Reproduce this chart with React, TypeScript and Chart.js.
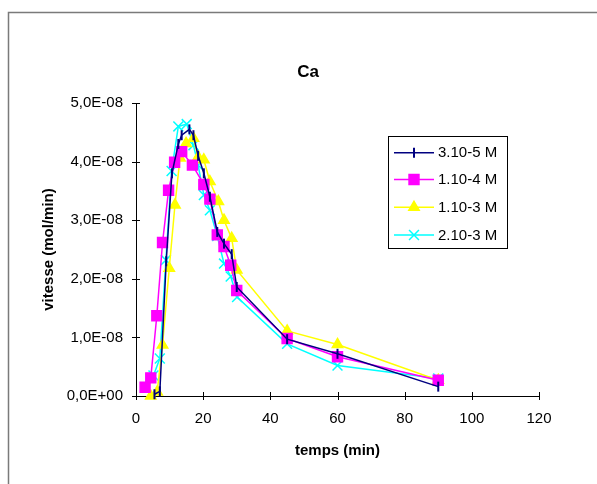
import React, { useEffect, useRef } from 'react';
import { Chart, registerables } from 'chart.js';
import { drawPoint } from 'chart.js/helpers';

Chart.register(...registerables);

const CHART_TITLE = 'Ca';
const X_TITLE = 'temps (min)';
const Y_TITLE = 'vitesse (mol/min)';
const SERIES_NAMES = ['3.10-5 M', '1.10-4 M', '1.10-3 M', '2.10-3 M'];
const UNIT = 1e-8; // values below are in 1E-08 mol/min

const t_3e5 = [5.5, 7.1, 9.0, 10.7, 12.6, 13.6, 15.9, 17.1, 18.5, 20.2, 22.0, 24.2, 26.2, 28.5, 30.0, 45, 60, 90];
const v_3e5 = [0.03, 0.08, 2.3, 3.8, 4.3, 4.45, 4.55, 4.45, 4.1, 3.8, 3.4, 2.8, 2.6, 2.42, 1.86, 0.97, 0.72, 0.16];

const t_1e4 = [2.7, 4.4, 6.2, 7.9, 9.7, 11.5, 13.6, 16.8, 20.2, 22.0, 24.2, 26.2, 28.2, 30.0, 45, 60, 90];
const v_1e4 = [0.15, 0.31, 1.37, 2.62, 3.51, 3.99, 4.17, 3.94, 3.61, 3.36, 2.75, 2.55, 2.23, 1.8, 0.98, 0.67, 0.27];

const t_1e3 = [4.4, 6.3, 7.9, 9.9, 11.6, 13.1, 14.9, 17.1, 18.5, 20.2, 22.0, 24.5, 26.2, 28.5, 30, 45, 60, 90];
const v_1e3 = [0.0, 0.07, 0.87, 2.18, 3.26, 4.06, 4.31, 4.4, 4.08, 4.03, 3.66, 3.32, 3.0, 2.69, 2.15, 1.11, 0.88, 0.27];

const t_2e3 = [5.2, 7.1, 8.9, 10.6, 12.6, 15.1, 17.1, 18.5, 20.2, 22.0, 24.2, 26.2, 28.2, 30.1, 45, 60, 90];
const v_2e3 = [0.35, 0.64, 2.32, 3.84, 4.6, 4.64, 4.28, 3.94, 3.43, 3.17, 2.73, 2.26, 2.04, 1.69, 0.89, 0.52, 0.3];

const X_MIN = 0, X_MAX = 120, X_STEP = 20;
const Y_MIN = 0, Y_MAX = 5, Y_STEP = 1;

const FONT = "'Liberation Sans', Arial, sans-serif";

const pts = (t: number[], v: number[]) => t.map((x, i) => ({ x, y: v[i] * UNIT }));

const fmtY = (val: number) => {
  const s = Number(val).toExponential(1); // e.g. 5.0e-8
  const [m, e] = s.split('e');
  const sign = e.startsWith('-') ? '-' : '+';
  const digits = e.replace(/[+-]/, '').padStart(2, '0');
  return m.replace('.', ',') + 'E' + sign + digits;
};

const decorPlugin = {
  id: 'decor',
  beforeDraw(chart: any) {
    const ctx = chart.ctx;
    ctx.save();
    ctx.fillStyle = '#fff';
    ctx.fillRect(0, 0, chart.width, chart.height);
    ctx.strokeStyle = '#7a7a7a';
    ctx.lineWidth = 1.5;
    ctx.strokeRect(8.5, 12.5, 800, 800);
    ctx.restore();
  },
  afterDraw(chart: any) {
    const ctx = chart.ctx;
    const { left, right, top, bottom } = chart.chartArea;
    const xs = chart.scales.x;
    const ys = chart.scales.y;
    ctx.save();
    ctx.strokeStyle = '#000';
    ctx.lineWidth = 1;
    // crossing tick marks
    ctx.beginPath();
    xs.ticks.forEach((t: any) => {
      const px = Math.round(xs.getPixelForValue(t.value)) + 0.5;
      ctx.moveTo(px, bottom - 4);
      ctx.lineTo(px, bottom + 4);
    });
    ys.ticks.forEach((t: any) => {
      const py = Math.round(ys.getPixelForValue(t.value)) + 0.5;
      ctx.moveTo(left - 4, py);
      ctx.lineTo(left + 4, py);
    });
    ctx.stroke();

    // titles
    ctx.fillStyle = '#000';
    ctx.textAlign = 'center';
    ctx.textBaseline = 'middle';
    ctx.font = `bold 17px ${FONT}`;
    ctx.fillText(CHART_TITLE, 308, 72);
    ctx.font = `bold 15px ${FONT}`;
    ctx.fillText(X_TITLE, (left + right) / 2, 451);
    ctx.save();
    ctx.translate(48.5, (top + bottom) / 2);
    ctx.rotate(-Math.PI / 2);
    ctx.fillText(Y_TITLE, 0, 0);
    ctx.restore();

    // legend
    const bx = 388, by = 136, bw = 119, bh = 112;
    ctx.strokeStyle = '#000';
    ctx.lineWidth = 1;
    ctx.strokeRect(bx + 0.5, by + 0.5, bw, bh);
    const rowY = [152.7, 179.5, 207.3, 235];
    chart.data.datasets.forEach((ds: any, i: number) => {
      const y = rowY[i];
      ctx.strokeStyle = ds.borderColor;
      ctx.lineWidth = 1.5;
      ctx.beginPath();
      ctx.moveTo(394, y);
      ctx.lineTo(434, y);
      ctx.stroke();
      ctx.fillStyle = ds.pointBackgroundColor;
      ctx.strokeStyle = ds.pointBorderColor;
      ctx.lineWidth = ds.pointBorderWidth;
      drawPoint(ctx, { pointStyle: ds.pointStyle, rotation: ds.pointRotation || 0, radius: ds.pointRadius, borderWidth: ds.pointBorderWidth }, 414, y);
      ctx.fillStyle = '#000';
      ctx.font = `15px ${FONT}`;
      ctx.textAlign = 'left';
      ctx.textBaseline = 'middle';
      ctx.fillText(ds.label, 438, y + 0.5);
    });
    ctx.restore();
  },
};

export default function App() {
  const ref = useRef<HTMLCanvasElement>(null);
  useEffect(() => {
    if (!ref.current) return;
    const mk = (label: string, data: any[], color: string, style: string, radius: number, width: number, extra: any = {}) => ({
      label,
      data,
      borderColor: color,
      backgroundColor: color,
      pointBackgroundColor: color,
      pointBorderColor: color,
      pointStyle: style,
      pointRadius: radius,
      pointBorderWidth: 1.5,
      borderWidth: width,
      showLine: true,
      tension: 0,
      clip: false,
      ...extra,
    });
    const chart = new Chart(ref.current, {
      type: 'scatter',
      data: {
        datasets: [
          mk(SERIES_NAMES[0], pts(t_3e5, v_3e5), '#000080', 'line', 5, 1.5, { pointRotation: 90, pointBorderWidth: 2 }),
          mk(SERIES_NAMES[1], pts(t_1e4, v_1e4), '#FF00FF', 'rect', 7, 1.5),
          mk(SERIES_NAMES[2], pts(t_1e3, v_1e3), '#FFFF00', 'triangle', 6, 1.5),
          mk(SERIES_NAMES[3], pts(t_2e3, v_2e3), '#00FFFF', 'crossRot', 7, 1.5, { pointBorderWidth: 1.5 }),
        ],
      },
      options: {
        animation: false,
        responsive: false,
        devicePixelRatio: 1,
        layout: { padding: { left: 0, top: 103, right: 58, bottom: 0 } },
        plugins: { legend: { display: false }, title: { display: false }, tooltip: { enabled: false } },
        scales: {
          x: {
            type: 'linear',
            min: X_MIN,
            max: X_MAX,
            grid: { display: false, drawTicks: false },
            border: { display: true, color: '#000', width: 1 },
            ticks: { stepSize: X_STEP, color: '#000', font: { family: FONT, size: 15 }, padding: 14, maxRotation: 0 },
            afterFit: (s: any) => { s.height = 88; s.paddingLeft = 0; s.paddingRight = 0; },
          },
          y: {
            type: 'linear',
            min: Y_MIN * UNIT,
            max: Y_MAX * UNIT,
            grid: { display: false, drawTicks: false },
            border: { display: true, color: '#000', width: 1 },
            ticks: { stepSize: Y_STEP * UNIT, color: '#000', font: { family: FONT, size: 15 }, padding: 13, callback: (v: any) => fmtY(Number(v)) },
            afterFit: (s: any) => { s.width = 136; s.paddingTop = 0; s.paddingBottom = 0; },
          },
        },
      } as any,
      plugins: [decorPlugin],
    });
    return () => chart.destroy();
  }, []);
  return (
    <div style={{ position: 'fixed', left: 0, top: 0, width: 597, height: 484, background: '#fff' }}>
      <canvas ref={ref} width={597} height={484} style={{ width: 597, height: 484, display: 'block' }} />
    </div>
  );
}
